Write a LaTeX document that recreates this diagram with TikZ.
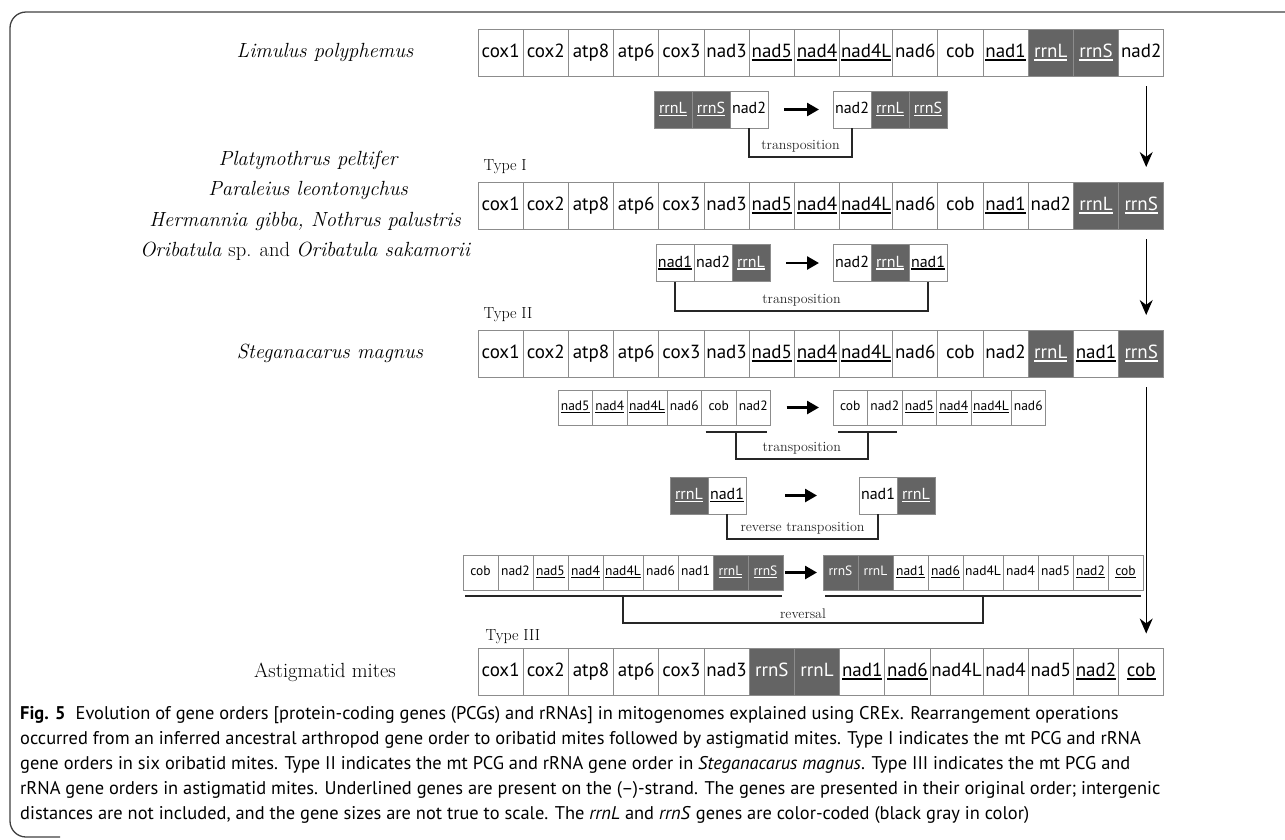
\documentclass[tikz,border=0pt]{standalone}
\usepackage{fontspec}
\usepackage{tikz}
\usetikzlibrary{shapes,arrows,arrows.meta,positioning}
\usepackage{xcolor}
\newfontfamily\genesans{PT Sans}
\definecolor{rrnagray}{RGB}{100,100,100}
\definecolor{cellline}{RGB}{140,140,140}
\newcommand{\gu}[1]{\leavevmode\setbox0\hbox{#1}\rlap{\raisebox{-0.18em}{\rule{\wd0}{0.09em}}}\box0}
\tikzset{
	gene/.style={draw=cellline, line width=1pt, inner sep=0pt, outer sep=0pt},
	genew/.style={gene, fill=white},
	geneg/.style={gene, fill=rrnagray, text=white},
	bigcell/.style={minimum height=47pt, font=\genesans\fontsize{19}{19}\selectfont, text height=13.5pt, text depth=4pt},
	midcell/.style={minimum height=37pt, font=\genesans\fontsize{16}{16}\selectfont, text height=11.5pt, text depth=3.4pt},
	smallcell/.style={minimum height=35pt, font=\genesans\fontsize{13.5}{13.5}\selectfont, text height=9.8pt, text depth=2.9pt},
	species/.style={font=\fontsize{20.5}{24}\selectfont\itshape},
	typelabel/.style={anchor=west, font=\fontsize{16}{18}\selectfont},
	oplabel/.style={font=\fontsize{14}{16}\selectfont},
	steparrow/.style={line width=2.6pt, -{Triangle[length=12pt,width=13pt]}, shorten <=16pt, shorten >=14pt},
	downarrow/.style={line width=1.3pt, -{Stealth[length=15pt,width=13pt]}, shorten <=10pt, shorten >=15pt},
	bracket/.style={line width=2pt, black!85},
	capline/.style={anchor=west, inner sep=0pt, font=\genesans\fontsize{18.4}{20}\selectfont},
	frame/.style={draw=black!75, line width=1.3pt, rounded corners=16pt}
}

\begin{document}
\begin{tikzpicture}[x=1pt,y=-1pt]
		\useasboundingbox (0,0) rectangle (1285,839);
		\draw[frame] (1285,12) -- (10,12) -- (10,837) -- (60,837);

		\node[species] (limulus) at (325,52.5) {Limulus polyphemus};
		\node[species] (platy) at (308,160) {Platynothrus peltifer};
		\node[species] (paral) at (308,190) {Paraleius leontonychus};
		\node[species] (herman) at (305,221) {Hermannia gibba, Nothrus palustris};
		\node[species] (oriba) at (305,251) {Oribatula \upshape sp. and \itshape Oribatula sakamorii};
		\node[species] (stegan) at (330,353.5) {Steganacarus magnus};
		\node[species, font=\fontsize{20.5}{24}\selectfont] (astig) at (325,672) {Astigmatid mites};
		\node[typelabel] (type1) at (480,167) {Type I};
		\node[typelabel] (type2) at (480,315) {Type II};
		\node[typelabel] (type3) at (482,637) {Type III};

		\coordinate (r1-0) at (478,52.5);
		\foreach \g/\w/\k [count=\i, remember=\i as \j (initially 0)] in {cox1/45.2/genew, cox2/45.2/genew, atp8/45.2/genew, atp6/45.2/genew, cox3/45.2/genew, nad3/45.2/genew, \gu{nad5}/45.2/genew, \gu{nad4}/45.2/genew, \gu{nad4L}/53/genew, nad6/45.2/genew, cob/45.2/genew, \gu{nad1}/45.2/genew, \gu{rrnL}/45.2/geneg, \gu{rrnS}/45.2/geneg, nad2/45.2/genew}
			\node[\k, bigcell, minimum width=\w pt, right=0pt of r1-\j] (r1-\i) {\g};

		\coordinate (r2-0) at (478,205.5);
		\foreach \g/\w/\k [count=\i, remember=\i as \j (initially 0)] in {cox1/45.2/genew, cox2/45.2/genew, atp8/45.2/genew, atp6/45.2/genew, cox3/45.2/genew, nad3/45.2/genew, \gu{nad5}/45.2/genew, \gu{nad4}/45.2/genew, \gu{nad4L}/53/genew, nad6/45.2/genew, cob/45.2/genew, \gu{nad1}/45.2/genew, nad2/45.2/genew, \gu{rrnL}/45.2/geneg, \gu{rrnS}/45.2/geneg}
			\node[\k, bigcell, minimum width=\w pt, right=0pt of r2-\j] (r2-\i) {\g};

		\coordinate (r3-0) at (478,353.5);
		\foreach \g/\w/\k [count=\i, remember=\i as \j (initially 0)] in {cox1/45.2/genew, cox2/45.2/genew, atp8/45.2/genew, atp6/45.2/genew, cox3/45.2/genew, nad3/45.2/genew, \gu{nad5}/45.2/genew, \gu{nad4}/45.2/genew, \gu{nad4L}/53/genew, nad6/45.2/genew, cob/45.2/genew, nad2/45.2/genew, \gu{rrnL}/45.2/geneg, \gu{nad1}/45.2/genew, \gu{rrnS}/45.2/geneg}
			\node[\k, bigcell, minimum width=\w pt, right=0pt of r3-\j] (r3-\i) {\g};

		\coordinate (r4-0) at (478,672);
		\foreach \g/\w/\k [count=\i, remember=\i as \j (initially 0)] in {cox1/45.2/genew, cox2/45.2/genew, atp8/45.2/genew, atp6/45.2/genew, cox3/45.2/genew, nad3/45.2/genew, rrnS/45.2/geneg, rrnL/45.2/geneg, \gu{nad1}/45.2/genew, \gu{nad6}/45.2/genew, nad4L/53/genew, nad4/45.2/genew, nad5/45.2/genew, \gu{nad2}/45.2/genew, \gu{cob}/45.2/genew}
			\node[\k, bigcell, minimum width=\w pt, right=0pt of r4-\j] (r4-\i) {\g};

		\coordinate (t1a-0) at (654,109.5);
		\foreach \g/\k [count=\i, remember=\i as \j (initially 0)] in {\gu{rrnL}/geneg, \gu{rrnS}/geneg, nad2/genew}
			\node[\k, midcell, minimum width=38pt, right=0pt of t1a-\j] (t1a-\i) {\g};
		\coordinate (t1b-0) at (833,109.5);
		\foreach \g/\k [count=\i, remember=\i as \j (initially 0)] in {nad2/genew, \gu{rrnL}/geneg, \gu{rrnS}/geneg}
			\node[\k, midcell, minimum width=38pt, right=0pt of t1b-\j] (t1b-\i) {\g};

		\coordinate (t2a-0) at (656,263);
		\foreach \g/\k [count=\i, remember=\i as \j (initially 0)] in {\gu{nad1}/genew, nad2/genew, \gu{rrnL}/geneg}
			\node[\k, midcell, minimum width=38pt, right=0pt of t2a-\j] (t2a-\i) {\g};
		\coordinate (t2b-0) at (833,263);
		\foreach \g/\k [count=\i, remember=\i as \j (initially 0)] in {nad2/genew, \gu{rrnL}/geneg, \gu{nad1}/genew}
			\node[\k, midcell, minimum width=38pt, right=0pt of t2b-\j] (t2b-\i) {\g};

		\coordinate (t3a-0) at (558,407.5);
		\foreach \g/\w [count=\i, remember=\i as \j (initially 0)] in {\gu{nad5}/34.5, \gu{nad4}/34.5, \gu{nad4L}/40, nad6/34.5, cob/34.5, nad2/34.5}
			\node[genew, smallcell, minimum width=\w pt, right=0pt of t3a-\j] (t3a-\i) {\g};
		\coordinate (t3b-0) at (833,407.5);
		\foreach \g/\w [count=\i, remember=\i as \j (initially 0)] in {cob/34.5, nad2/34.5, \gu{nad5}/34.5, \gu{nad4}/34.5, \gu{nad4L}/40, nad6/34.5}
			\node[genew, smallcell, minimum width=\w pt, right=0pt of t3b-\j] (t3b-\i) {\g};

		\coordinate (rta-0) at (670,495.5);
		\foreach \g/\k [count=\i, remember=\i as \j (initially 0)] in {\gu{rrnL}/geneg, \gu{nad1}/genew}
			\node[\k, midcell, minimum width=38pt, right=0pt of rta-\j] (rta-\i) {\g};
		\coordinate (rtb-0) at (859,495.5);
		\foreach \g/\k [count=\i, remember=\i as \j (initially 0)] in {nad1/genew, \gu{rrnL}/geneg}
			\node[\k, midcell, minimum width=38pt, right=0pt of rtb-\j] (rtb-\i) {\g};

		\coordinate (rva-0) at (463,572.5);
		\foreach \g/\w/\k [count=\i, remember=\i as \j (initially 0)] in {cob/35/genew, nad2/35/genew, \gu{nad5}/35/genew, \gu{nad4}/35/genew, \gu{nad4L}/40/genew, nad6/35/genew, nad1/35/genew, \gu{rrnL}/35/geneg, \gu{rrnS}/35/geneg}
			\node[\k, smallcell, minimum width=\w pt, right=0pt of rva-\j] (rva-\i) {\g};
		\coordinate (rvb-0) at (823,572.5);
		\foreach \g/\w/\k [count=\i, remember=\i as \j (initially 0)] in {rrnS/35/geneg, rrnL/35/geneg, \gu{nad1}/35/genew, \gu{nad6}/35/genew, nad4L/40/genew, nad4/35/genew, nad5/35/genew, \gu{nad2}/35/genew, \gu{cob}/35/genew}
			\node[\k, smallcell, minimum width=\w pt, right=0pt of rvb-\j] (rvb-\i) {\g};

		\draw[steparrow] (t1a-3.east) -- (t1b-1.west);
		\draw[steparrow] (t2a-3.east) -- (t2b-1.west);
		\draw[steparrow] (t3a-6.east) -- (t3b-1.west);
		\draw[steparrow, shorten <=39pt, shorten >=42pt] (rta-2.east) -- (rtb-1.west);
		\draw[steparrow, shorten <=2pt, shorten >=6pt] (rva-9.east) -- (rvb-1.west);

		\draw[downarrow] ([xshift=5pt]r1-15.south) -- ([xshift=5pt]r2-15.north);
		\draw[downarrow] ([xshift=5pt]r2-15.south) -- ([xshift=5pt]r3-15.north);
		\draw[downarrow] ([xshift=5pt]r3-15.south) -- ([xshift=5pt]r4-15.north);

		\draw[bracket] (t1a-3.south) -- ++(0,29) -| node[oplabel, pos=0.25, above] {transposition} (t1b-1.south);
		\draw[bracket] (t2a-1.south) -- ++(0,29) -| node[oplabel, pos=0.25, above] {transposition} (t2b-3.south);
		\draw[bracket] ([shift={(4,7)}]t3a-5.south west) -- ([shift={(-4,7)}]t3a-6.south east);
		\draw[bracket] ([shift={(5,7)}]t3b-1.south west) -- ([shift={(-5,7)}]t3b-2.south east);
		\draw[bracket] ([shift={(0,7)}]t3a-5.south east) -- ++(0,27) -| node[oplabel, pos=0.25, above] {transposition} ([shift={(0,7)}]t3b-1.south east);
		\draw[bracket] (rta-2.south) -- ++(0,25) -| node[oplabel, pos=0.25, above] {reverse transposition} (rtb-1.south);
		\draw[bracket] ([shift={(2,6)}]rva-1.south west) -- ([shift={(-1,6)}]rva-9.south east);
		\draw[bracket] ([shift={(2,6)}]rvb-1.south west) -- ([shift={(-2,6)}]rvb-9.south east);
		\draw[bracket] ([shift={(0,6)}]rva-5.south) -- ++(0,27) -| node[oplabel, pos=0.25, above] {reversal} ([shift={(0,6)}]rvb-5.south);

		\node[capline] (cap1) at (20,715) {\textbf{Fig. 5}\hspace{0.55em}Evolution of gene orders [protein-coding genes (PCGs) and rRNAs] in mitogenomes explained using CREx. Rearrangement operations};
		\node[capline] (cap2) at (20,740) {occurred from an inferred ancestral arthropod gene order to oribatid mites followed by astigmatid mites. Type I indicates the mt PCG and rRNA};
		\node[capline] (cap3) at (20,765) {gene orders in six oribatid mites. Type II indicates the mt PCG and rRNA gene order in \textit{Steganacarus magnus}. Type III indicates the mt PCG and};
		\node[capline] (cap4) at (20,790) {rRNA gene orders in astigmatid mites. Underlined genes are present on the (\textendash)-strand. The genes are presented in their original order; intergenic};
		\node[capline] (cap5) at (20,815) {distances are not included, and the gene sizes are not true to scale. The \textit{rrnL} and \textit{rrnS} genes are color-coded (black gray in color)};
\end{tikzpicture}
\end{document}
